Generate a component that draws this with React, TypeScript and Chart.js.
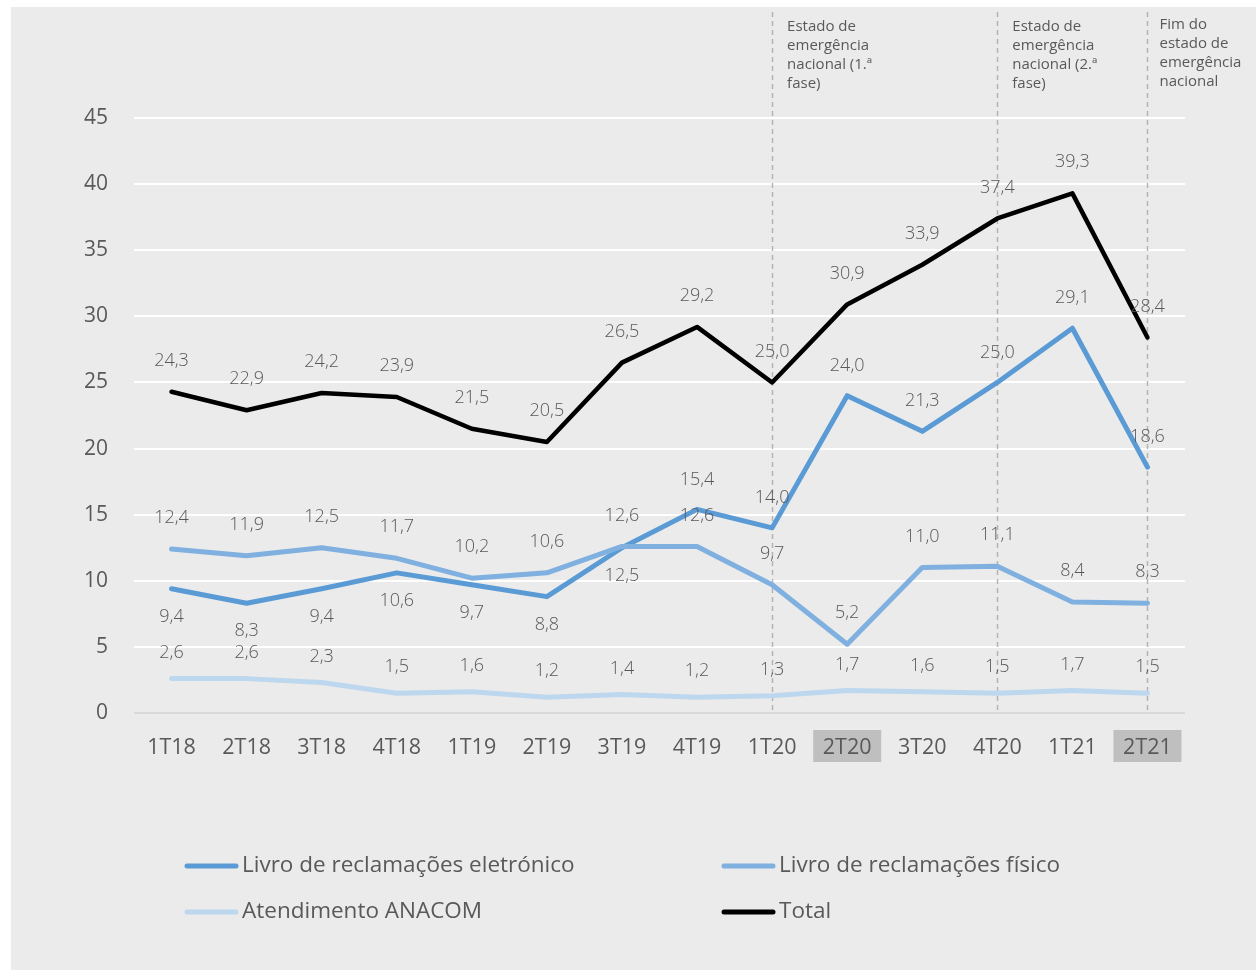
import React, { useEffect, useRef } from "react";
import { Chart, registerables } from "chart.js";

Chart.register(...registerables);

const categories = ["1T18", "2T18", "3T18", "4T18", "1T19", "2T19", "3T19", "4T19", "1T20", "2T20", "3T20", "4T20", "1T21", "2T21"];
const eletronico = [9.4, 8.3, 9.4, 10.6, 9.7, 8.8, 12.5, 15.4, 14.0, 24.0, 21.3, 25.0, 29.1, 18.6];
const fisico = [12.4, 11.9, 12.5, 11.7, 10.2, 10.6, 12.6, 12.6, 9.7, 5.2, 11.0, 11.1, 8.4, 8.3];
const anacom = [2.6, 2.6, 2.3, 1.5, 1.6, 1.2, 1.4, 1.2, 1.3, 1.7, 1.6, 1.5, 1.7, 1.5];
const total = [24.3, 22.9, 24.2, 23.9, 21.5, 20.5, 26.5, 29.2, 25.0, 30.9, 33.9, 37.4, 39.3, 28.4];
const seriesNames = ["Livro de reclamações eletrónico", "Livro de reclamações físico", "Atendimento ANACOM", "Total"];
const highlightedCategories = ["2T20", "2T21"];
const annotationCategories = ["1T20", "4T20", "2T21"];
const annotationTexts = [
  ["Estado de", "emergência", "nacional (1.ª", "fase)"],
  ["Estado de", "emergência", "nacional (2.ª", "fase)"],
  ["Fim do", "estado de", "emergência", "nacional"],
];
// electronic labels placed below the line for the first quarters
const eletronicoBelowUntil = 6;

const FONT = "'Open Sans', 'Noto Sans', sans-serif";
const TEXT = "#595959";
const COLORS = ["#5B9BD5", "#7FB0DF", "#BDD7EE", "#000000"];

const fmt = (v: number) => v.toFixed(1).replace(".", ",");

const bgPlugin = {
  id: "highlights",
  beforeDraw(chart: any) {
    const ctx = chart.ctx;
    const x = chart.scales.x;
    const bottom = chart.chartArea.bottom;
    ctx.save();
    ctx.fillStyle = "#BFBFBF";
    highlightedCategories.forEach((c) => {
      const i = categories.indexOf(c);
      const px = x.getPixelForValue(i);
      ctx.fillRect(px - 34, bottom + 17, 68, 32);
    });
    ctx.restore();
  },
  beforeDatasetsDraw(chart: any) {
    const ctx = chart.ctx;
    const x = chart.scales.x;
    const bottom = chart.chartArea.bottom;
    ctx.save();
    ctx.strokeStyle = "#B4B4B4";
    ctx.lineWidth = 1.5;
    ctx.setLineDash([5, 4]);
    annotationCategories.forEach((c) => {
      const i = categories.indexOf(c);
      const px = Math.round(x.getPixelForValue(i)) + 0.5;
      ctx.beginPath();
      ctx.moveTo(px, 5);
      ctx.lineTo(px, bottom);
      ctx.stroke();
    });
    ctx.setLineDash([]);
    ctx.fillStyle = TEXT;
    ctx.font = `15px ${FONT}`;
    ctx.textBaseline = "middle";
    ctx.textAlign = "left";
    annotationCategories.forEach((c, k) => {
      const i = categories.indexOf(c);
      const px = x.getPixelForValue(i);
      const dx = k === 2 ? 12 : 15;
      const y0 = k === 2 ? 18 : 20;
      annotationTexts[k].forEach((t, j) => {
        ctx.fillText(t, px + dx, y0 + j * 19);
      });
    });
    ctx.restore();
  },
  afterDatasetsDraw(chart: any) {
    const ctx = chart.ctx;
    ctx.save();
    ctx.fillStyle = TEXT;
    ctx.font = `300 18px ${FONT}`;
    ctx.textAlign = "center";
    ctx.textBaseline = "middle";
    chart.data.datasets.forEach((ds: any, di: number) => {
      const meta = chart.getDatasetMeta(di);
      meta.data.forEach((pt: any, i: number) => {
        let off = -31;
        if (di === 0) off = i <= eletronicoBelowUntil ? 28 : -30;
        if (di === 2) off = -26;
        ctx.fillText(fmt(ds.data[i]), pt.x, pt.y + off);
      });
    });
    // legend
    ctx.font = `22.5px ${FONT}`;
    ctx.textAlign = "left";
    const cols = [174, 711];
    const rows = [859, 905];
    chart.data.datasets.forEach((ds: any, di: number) => {
      const lx = cols[di % 2];
      const ly = rows[Math.floor(di / 2)];
      ctx.strokeStyle = ds.borderColor;
      ctx.lineWidth = 5;
      ctx.lineCap = "round";
      ctx.beginPath();
      ctx.moveTo(lx + 2, ly);
      ctx.lineTo(lx + 51, ly);
      ctx.stroke();
      ctx.fillStyle = TEXT;
      ctx.fillText(ds.label, lx + 57, ly);
    });
    ctx.restore();
  },
};

export default function App() {
  const ref = useRef<HTMLCanvasElement>(null);
  useEffect(() => {
    if (!ref.current) return;
    const seriesData = [eletronico, fisico, anacom, total];
    const chart = new Chart(ref.current, {
      type: "line",
      data: {
        labels: categories,
        datasets: seriesData.map((d, i) => ({
          label: seriesNames[i],
          data: d,
          borderColor: COLORS[i],
          backgroundColor: COLORS[i],
          borderWidth: i === 3 ? 4.5 : 5,
          pointRadius: 0,
          pointHoverRadius: 0,
          tension: 0,
          borderJoinStyle: "round" as const,
          borderCapStyle: "round" as const,
          order: 3 - i,
        })),
      },
      options: {
        responsive: false,
        animation: false,
        layout: { padding: { top: 111, right: 71, left: 0, bottom: 0 } },
        plugins: { legend: { display: false }, tooltip: { enabled: false } },
        scales: {
          x: {
            offset: true,
            grid: { display: false, drawTicks: false },
            border: { display: false },
            ticks: { color: TEXT, font: { family: FONT, size: 21.5 }, padding: 22, maxRotation: 0 },
            afterFit: (s: any) => { s.height = 257; },
          },
          y: {
            min: 0,
            max: 45,
            grid: {
              drawTicks: false,
              color: (c: any) => (c.tick && c.tick.value === 0 ? "#D9D9D9" : "#FFFFFF"),
              lineWidth: 2,
            },
            border: { display: false },
            ticks: { stepSize: 5, color: TEXT, font: { family: FONT, size: 21 }, padding: 26 },
            afterFit: (s: any) => { s.width = 123; },
          },
        },
      },
      plugins: [bgPlugin],
    });
    return () => chart.destroy();
  }, []);
  return (
    <div style={{ position: "absolute", left: 0, top: 0, width: 1256, height: 970, background: "#FFFFFF" }}>
      <div style={{ position: "absolute", left: 11, top: 7, width: 1245, height: 963, background: "#EBEBEB" }}>
        <canvas ref={ref} width={1245} height={963} style={{ display: "block" }} />
      </div>
    </div>
  );
}
